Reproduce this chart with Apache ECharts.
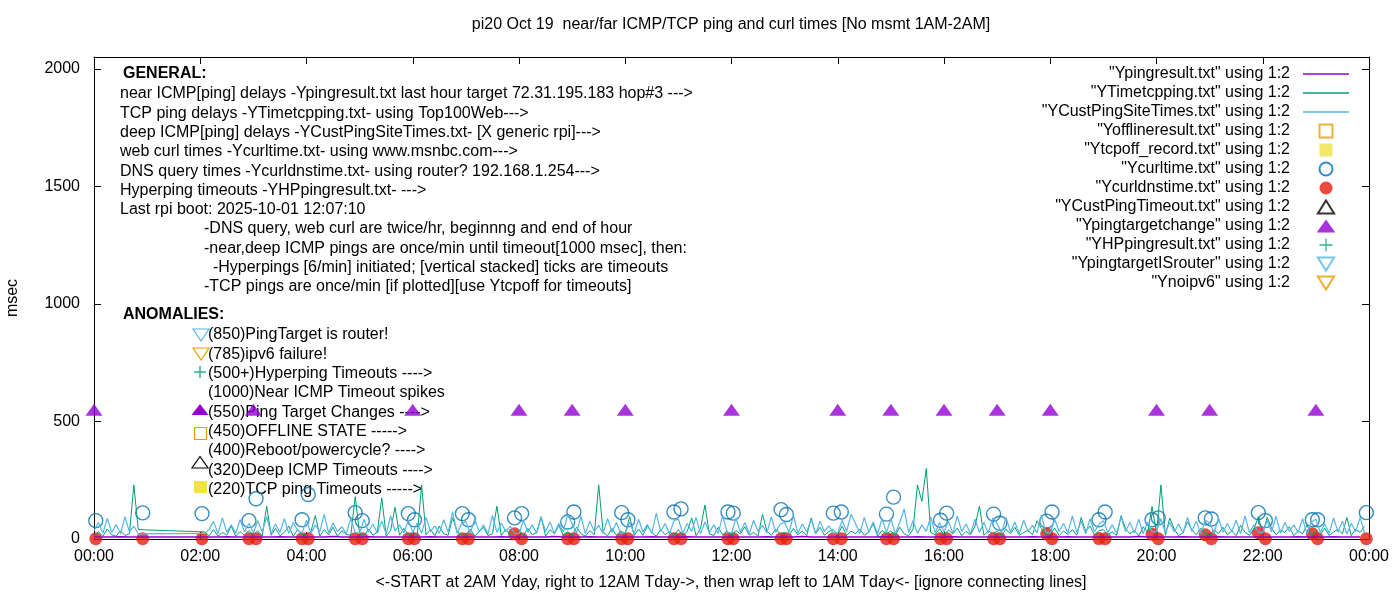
<!DOCTYPE html>
<html lang="en">
<head>
  <meta charset="UTF-8">
  <title>pi20 ping and curl times</title>
  <style>
    html, body { margin: 0; background: #fff; }
    #main { width: 1400px; height: 600px; }
  </style>
</head>
<body>
  <div id="main"></div>
  <script src="https://cdn.jsdelivr.net/npm/echarts@6/dist/echarts.min.js"></script>
  <script>
    // x is minutes after midnight; nothing measured between 1AM and 2AM
    const tickLabels = ['00:00', '02:00', '04:00', '06:00', '08:00', '10:00', '12:00',
      '14:00', '16:00', '18:00', '20:00', '22:00', '00:00'];
    const yTicks = [0, 500, 1000, 1500, 2000];

    // TCP ping (green), one sample every 5 min: today 00:00-00:50, yesterday 02:05-23:55
    const tcpToday = [14, 30, 12, 42, 18, 12, 35, 15, 22, 230, 40];
    const tcpYday = [
      30, 14, 40, 12, 28, 16, 55, 12, 32, 15, 36,
      18, 35, 12, 140, 16, 45, 14, 28, 55, 12, 40, 20,
      16, 32, 100, 12, 40, 18, 50, 12, 35, 20, 15, 180,
      22, 14, 42, 16, 30, 175, 12, 36, 135, 16, 45, 18,
      28, 12, 230, 18, 40, 14, 55, 22, 16, 90, 35, 14,
      16, 42, 12, 32, 50, 15, 22, 140, 14, 40, 18, 28,
      34, 14, 45, 18, 28, 95, 12, 40, 22, 58, 16, 32,
      15, 50, 22, 12, 36, 18, 230, 28, 14, 45, 16, 34,
      22, 95, 14, 42, 16, 55, 28, 12, 40, 18, 32, 15,
      40, 16, 32, 90, 14, 45, 145, 22, 15, 50, 18, 34,
      14, 36, 22, 52, 16, 28, 12, 105, 34, 16, 42, 22,
      28, 15, 45, 18, 34, 14, 90, 22, 50, 16, 32, 40,
      18, 55, 14, 34, 22, 42, 16, 28, 65, 12, 36, 22,
      34, 16, 50, 22, 14, 40, 230, 160, 300, 28, 18, 45,
      16, 38, 22, 46, 14, 32, 18, 55, 140, 16, 34, 24,
      32, 14, 42, 22, 50, 16, 28, 36, 18, 77, 45, 15,
      22, 46, 15, 34, 18, 40, 16, 92, 32, 55, 16, 36,
      40, 18, 30, 15, 99, 45, 22, 36, 14, 52, 28, 138,
      22, 230, 16, 89, 42, 14, 28, 73, 38, 18, 46, 22,
      15, 40, 22, 50, 18, 34, 14, 58, 28, 16, 42, 95,
      24, 92, 45, 18, 38, 28, 52, 14, 34, 22, 60, 16,
      34, 18, 46, 15, 30, 40, 22, 92, 14, 42, 28, 55
    ];

    // deep ICMP ping (light blue), same 5 min grid
    const custToday = [35, 70, 24, 88, 28, 62, 22, 95, 30, 55, 22];
    const custYday = [
      24, 40, 75, 22, 90, 28, 60, 24, 82, 30, 66,
      26, 78, 30, 95, 22, 64, 28, 86, 24, 70, 36, 26,
      80, 24, 60, 30, 105, 26, 68, 32, 52, 22, 88, 28,
      24, 84, 30, 64, 24, 76, 22, 98, 34, 60, 26, 80,
      28, 68, 24, 92, 32, 56, 24, 82, 28, 115, 24, 64,
      76, 24, 86, 30, 60, 22, 100, 28, 68, 32, 54, 24,
      22, 80, 28, 60, 24, 92, 32, 72, 24, 66, 30, 104,
      66, 26, 96, 22, 76, 32, 58, 24, 88, 28, 70, 22,
      28, 72, 22, 84, 30, 62, 24, 110, 32, 66, 22, 78,
      84, 24, 66, 32, 92, 22, 72, 28, 60, 24, 98, 30,
      24, 88, 30, 70, 22, 80, 32, 58, 26, 94, 28, 64,
      70, 28, 100, 24, 64, 30, 84, 22, 76, 32, 56, 24,
      26, 80, 32, 105, 66, 24, 92, 30, 72, 22, 86, 28,
      86, 22, 70, 128, 28, 78, 24, 60, 32, 94, 26, 70,
      30, 76, 24, 98, 32, 64, 22, 84, 28, 70, 24, 90,
      66, 26, 92, 30, 72, 22, 80, 32, 58, 26, 100, 28,
      24, 84, 32, 66, 26, 98, 28, 76, 22, 86, 30, 64,
      78, 28, 60, 24, 94, 32, 70, 26, 84, 22, 72, 30,
      32, 86, 26, 70, 30, 64, 24, 92, 32, 76, 22, 80,
      70, 24, 90, 28, 66, 32, 80, 22, 98, 26, 60, 30,
      26, 78, 30, 96, 24, 70, 32, 60, 28, 86, 22, 72,
      84, 28, 64, 24, 90, 30, 76, 22, 66, 32, 92, 26
    ];

    // near ICMP ping (purple), one sample every 10 min: today 00:00-00:50, yesterday 02:10-23:50
    const nearToday = [8, 9, 8, 10, 8, 9];
    const nearYday = [
      9, 8, 10, 8, 9,
      8, 9, 8, 10, 9, 8,
      9, 8, 9, 11, 8, 9,
      8, 10, 9, 8, 9, 8,
      9, 8, 10, 9, 8, 9,
      8, 9, 8, 9, 10, 8,
      9, 8, 9, 8, 11, 9,
      8, 9, 10, 8, 9, 8,
      9, 8, 9, 10, 8, 9,
      8, 10, 8, 9, 8, 9,
      9, 8, 9, 8, 10, 8,
      8, 9, 11, 9, 8, 9,
      9, 8, 9, 8, 9, 10,
      8, 9, 8, 10, 9, 8,
      9, 10, 8, 9, 8, 9,
      8, 9, 9, 8, 10, 8,
      9, 8, 10, 9, 8, 9,
      8, 9, 8, 9, 11, 8,
      9, 8, 9, 10, 8, 9,
      8, 10, 8, 9, 9, 8,
      9, 8, 9, 8, 10, 9,
      8, 9, 10, 8, 9, 8
    ];

    // web curl and DNS query, twice per hour
    const curlAt = ['00:02', '00:55', '02:02', '02:55', '03:03', '03:55', '04:02', '04:55',
      '05:03', '05:55', '06:02', '06:56', '07:03', '07:55', '08:03', '08:55', '09:02',
      '09:56', '10:03', '10:55', '11:03', '11:56', '12:02', '12:56', '13:02', '13:55',
      '14:04', '14:55', '15:03', '15:56', '16:03', '16:56', '17:03', '17:56', '18:02',
      '18:55', '19:02', '19:55', '20:02', '20:55', '21:02', '21:55', '22:03', '22:56',
      '23:02', '23:57'];
    const curlMs = [78, 111, 108, 78, 171, 82, 189, 112,
      78, 108, 82, 108, 82, 90, 108, 72, 115,
      112, 82, 115, 128, 115, 110, 125, 104, 110,
      115, 106, 178, 80, 110, 106, 67, 76, 115,
      82, 115, 82, 90, 90, 85, 112, 78, 82,
      82, 112];
    const dnsMs = [1, 1, 1, 1, 1, 1, 1, 1,
      1, 1, 1, 1, 1, 22, 1, 1, 1,
      1, 1, 1, 1, 1, 1, 1, 1, 1,
      1, 1, 1, 1, 1, 1, 1, 22, 1,
      2, 1, 20, 1, 18, 1, 27, 1, 22,
      1, 1];

    // ping target changes
    const targetAt = ['00:00', '03:00', '06:00', '08:00', '09:00', '10:00', '12:00', '14:00',
      '15:00', '16:00', '17:00', '18:00', '20:00', '21:00', '23:00'];
    const targetMs = [550, 550, 550, 550, 550, 550, 550, 550, 550, 550, 550, 550, 550, 550, 550];

    const generalLines = [
      'near ICMP[ping] delays -Ypingresult.txt last hour target 72.31.195.183 hop#3 --->',
      'TCP ping delays -YTimetcpping.txt- using Top100Web--->',
      'deep ICMP[ping] delays -YCustPingSiteTimes.txt- [X generic rpi]--->',
      'web curl times -Ycurltime.txt- using www.msnbc.com--->',
      'DNS query times -Ycurldnstime.txt- using router? 192.168.1.254--->',
      'Hyperping timeouts -YHPpingresult.txt- --->',
      'Last rpi boot: 2025-10-01 12:07:10'
    ];
    const generalNotes = [
      '-DNS query, web curl are twice/hr, beginnng and end of hour',
      '-near,deep ICMP pings are once/min until timeout[1000 msec], then:',
      '  -Hyperpings [6/min] initiated; [vertical stacked] ticks are timeouts',
      '-TCP pings are once/min [if plotted][use Ytcpoff for timeouts]'
    ];
    const anomalyLines = [
      '(850)PingTarget is router!',
      '(785)ipv6 failure!',
      '(500+)Hyperping Timeouts ---->',
      '(1000)Near ICMP Timeout spikes',
      '(550)Ping Target Changes ---->',
      '(450)OFFLINE STATE ----->',
      '(400)Reboot/powercycle? ---->',
      '(320)Deep ICMP Timeouts ---->',
      '(220)TCP ping Timeouts ----->'
    ];

    function toMin(hhmm) {
      const p = hhmm.split(':');
      return Number(p[0]) * 60 + Number(p[1]);
    }
    function run(start, step, values) {
      const t0 = toMin(start);
      return values.map((v, i) => [t0 + i * step, v]);
    }
    function pairs(times, values) {
      return times.map((t, i) => [toMin(t), values[i]]);
    }

    const FAMILY = '"Liberation Sans", Arial, Helvetica, sans-serif';
    const FS = 16;
    const PURPLE = '#9400d3', GREEN = '#009e73', SKY = '#56b4e9', ORANGE = '#e69f00',
      YELLOW = '#f0e442', BLUE = '#0072b2', RED = '#e51e10';
    const DOWN_TRI = 'path://M0,0L20,0L10,16Z';
    const UP_TRI = 'path://M10,0L20,16L0,16Z';
    const FLAT_TRI = 'path://M10,0L20,14L0,14Z';
    const SQUARE = 'path://M0,0H10V10H0Z';
    const PLUS = 'path://M9,0H11V9H20V11H11V20H9V11H0V9H9Z';
    const KEY_LINE = 'path://M0,0H46V1.6H0Z';
    const HOLLOW = 'rgba(0,0,0,0)';

    function text(x, y, s, extra) {
      return {
        type: 'text', x: x, y: y, silent: true,
        style: Object.assign({
          text: s, fontFamily: FAMILY, fontSize: FS, fill: '#000',
          align: 'left', verticalAlign: 'middle'
        }, extra || {})
      };
    }

    const LINE_H = 19.3;
    const graphics = [];
    graphics.push(text(731, 25, 'pi20 Oct 19  near/far ICMP/TCP ping and curl times [No msmt 1AM-2AM]', { align: 'center', whiteSpace: 'pre' }));
    graphics.push(text(731, 583, '<-START at 2AM Yday, right to 12AM Tday->, then wrap left to 1AM Tday<- [ignore connecting lines]', { align: 'center' }));
    graphics.push(Object.assign(text(13, 298, 'msec', { align: 'center' }), { rotation: Math.PI / 2 }));
    graphics.push(text(123, 74, 'GENERAL:', { fontWeight: 'bold' }));
    generalLines.forEach((s, i) => graphics.push(text(120, 94 + i * LINE_H, s)));
    generalNotes.forEach((s, i) => graphics.push(text(204, 229 + i * LINE_H, s, { whiteSpace: 'pre' })));
    graphics.push(text(123, 315, 'ANOMALIES:', { fontWeight: 'bold' }));
    anomalyLines.forEach((s, i) => graphics.push(text(208, 335 + i * LINE_H, s)));

    // key markers in front of the anomaly lines
    graphics.push({ type: 'polygon', silent: true, shape: { points: [[193, 329], [209, 329], [201, 341]] }, style: { fill: 'none', stroke: SKY, lineWidth: 1.2 } });
    graphics.push({ type: 'polygon', silent: true, shape: { points: [[193, 348], [209, 348], [201, 360]] }, style: { fill: 'none', stroke: ORANGE, lineWidth: 1.2 } });
    graphics.push({ type: 'line', silent: true, shape: { x1: 194, y1: 372, x2: 206, y2: 372 }, style: { stroke: GREEN, lineWidth: 1.2 } });
    graphics.push({ type: 'line', silent: true, shape: { x1: 200, y1: 366, x2: 200, y2: 378 }, style: { stroke: GREEN, lineWidth: 1.2 } });
    graphics.push({ type: 'polygon', silent: true, shape: { points: [[191.5, 415], [208.5, 415], [200, 404]] }, style: { fill: PURPLE } });
    graphics.push({ type: 'rect', silent: true, shape: { x: 194.5, y: 427.5, width: 12, height: 12 }, style: { fill: 'none', stroke: ORANGE, lineWidth: 1.2 } });
    graphics.push({ type: 'polygon', silent: true, shape: { points: [[192, 468], [208, 468], [200, 456.5]] }, style: { fill: 'none', stroke: '#000', lineWidth: 1.2 } });
    graphics.push({ type: 'rect', silent: true, shape: { x: 194, y: 481, width: 13, height: 12 }, style: { fill: YELLOW } });

    const axisLine = { show: true, onZero: false, lineStyle: { color: '#000', width: 1 } };
    const tick = { show: true, inside: true, length: 7, lineStyle: { color: '#000', width: 1 } };
    const labelFont = { color: '#000', fontSize: FS, fontFamily: FAMILY };

    const names = [
      '"Ypingresult.txt" using 1:2',
      '"YTimetcpping.txt" using 1:2',
      '"YCustPingSiteTimes.txt" using 1:2',
      '"Yofflineresult.txt" using 1:2',
      '"Ytcpoff_record.txt" using 1:2',
      '"Ycurltime.txt" using 1:2',
      '"Ycurldnstime.txt" using 1:2',
      '"YCustPingTimeout.txt" using 1:2',
      '"Ypingtargetchange" using 1:2',
      '"YHPpingresult.txt" using 1:2',
      '"YpingtargetISrouter" using 1:2',
      '"Ynoipv6" using 1:2'
    ];
    const keyIcons = [KEY_LINE, KEY_LINE, KEY_LINE, SQUARE, SQUARE, 'circle', 'circle',
      UP_TRI, FLAT_TRI, PLUS, DOWN_TRI, DOWN_TRI];

    const chart = echarts.init(document.getElementById('main'));
    chart.setOption({
      backgroundColor: '#fff',
      animation: false,
      textStyle: { fontFamily: FAMILY },
      grid: { left: 94, right: 31, top: 57, bottom: 61, containLabel: false },
      legend: {
        orient: 'vertical', right: 51, top: 66, padding: 0,
        align: 'right', itemWidth: 46, itemHeight: 13, itemGap: 3,
        selectedMode: false, symbolKeepAspect: true,
        data: names.map((n, i) => ({ name: n, icon: keyIcons[i] })),
        textStyle: { color: '#000', fontSize: FS, lineHeight: 16, fontFamily: FAMILY, padding: [0, 8, 0, 0] }
      },
      xAxis: [{
        type: 'value', min: 0, max: 1440, interval: 120,
        axisLine: axisLine, axisTick: tick, splitLine: { show: false },
        axisLabel: Object.assign({ margin: 10, formatter: v => tickLabels[Math.round(v / 120)] }, labelFont)
      }, {
        type: 'value', position: 'top', min: 0, max: 1440, interval: 120,
        axisLine: axisLine, axisTick: tick, splitLine: { show: false }, axisLabel: { show: false }
      }],
      yAxis: [{
        type: 'value', min: 0, max: 2050,
        axisLine: axisLine, axisTick: Object.assign({ customValues: yTicks }, tick), splitLine: { show: false },
        axisLabel: Object.assign({ margin: 14, customValues: yTicks, padding: [0, 0, 5, 0], formatter: v => String(v) }, labelFont)
      }, {
        type: 'value', position: 'right', min: 0, max: 2050,
        axisLine: axisLine, axisTick: Object.assign({ customValues: yTicks }, tick), splitLine: { show: false },
        axisLabel: { show: false }
      }],
      graphic: { elements: graphics },
      series: [
        {
          name: names[0], type: 'line', symbol: 'none', showSymbol: false,
          lineStyle: { color: PURPLE, width: 1.5 }, itemStyle: { color: PURPLE },
          data: run('00:00', 10, nearToday).concat(run('02:10', 10, nearYday))
        },
        {
          name: names[1], type: 'line', symbol: 'none', showSymbol: false,
          lineStyle: { color: GREEN, width: 1 }, itemStyle: { color: GREEN },
          data: run('00:00', 5, tcpToday).concat(run('02:05', 5, tcpYday))
        },
        {
          name: names[2], type: 'line', symbol: 'none', showSymbol: false,
          lineStyle: { color: SKY, width: 1.2 }, itemStyle: { color: SKY },
          data: run('00:00', 5, custToday).concat(run('02:05', 5, custYday))
        },
        {
          name: names[3], type: 'scatter', symbol: SQUARE, symbolSize: 12,
          itemStyle: { color: HOLLOW, borderColor: ORANGE, borderWidth: 1.2 }, data: []
        },
        {
          name: names[4], type: 'scatter', symbol: SQUARE, symbolSize: 12,
          itemStyle: { color: YELLOW }, data: []
        },
        {
          name: names[5], type: 'scatter', symbol: 'circle', symbolSize: 14,
          itemStyle: { color: HOLLOW, borderColor: BLUE, borderWidth: 1.4 },
          data: pairs(curlAt, curlMs)
        },
        {
          name: names[6], type: 'scatter', symbol: 'circle', symbolSize: 13,
          itemStyle: { color: RED }, data: pairs(curlAt, dnsMs)
        },
        {
          name: names[7], type: 'scatter', symbol: UP_TRI, symbolSize: [16, 12],
          itemStyle: { color: HOLLOW, borderColor: '#000', borderWidth: 1.2 }, data: []
        },
        {
          name: names[8], type: 'scatter', symbol: FLAT_TRI, symbolSize: [17, 12],
          itemStyle: { color: PURPLE }, data: pairs(targetAt, targetMs)
        },
        {
          name: names[9], type: 'scatter', symbol: PLUS, symbolSize: 12,
          itemStyle: { color: GREEN }, data: []
        },
        {
          name: names[10], type: 'scatter', symbol: DOWN_TRI, symbolSize: [16, 12],
          itemStyle: { color: HOLLOW, borderColor: SKY, borderWidth: 1.2 }, data: []
        },
        {
          name: names[11], type: 'scatter', symbol: DOWN_TRI, symbolSize: [16, 12],
          itemStyle: { color: HOLLOW, borderColor: ORANGE, borderWidth: 1.2 }, data: []
        }
      ]
    });
  </script>
</body>
</html>
